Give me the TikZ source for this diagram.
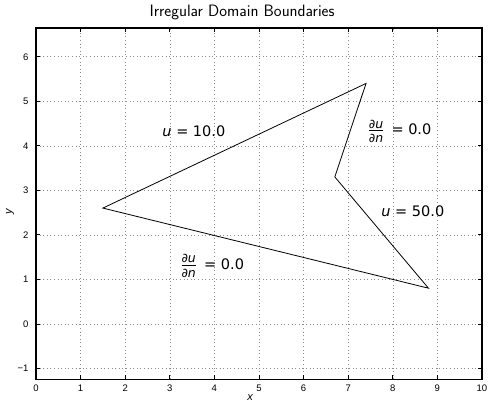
\documentclass[tikz,border=0pt]{standalone}
\usepackage{fontspec}
\usepackage{tikz}
\newfontfamily\labelfont{DejaVu Sans}
\newfontfamily\tickfont{Liberation Sans}
\colorlet{axiscol}{black}
\colorlet{gridcol}{black!45!white}
\colorlet{boundcol}{black}
\colorlet{ticklabelcol}{black}
\tikzset{
  ticklabel/.style={font=\tickfont\fontsize{9.5}{10}\selectfont, text=ticklabelcol},
  axislabel/.style={font=\tickfont\itshape\fontsize{11}{12}\selectfont},
  bclabel/.style={font=\labelfont\fontsize{14.5}{16}\selectfont},
  gridline/.style={gridcol, line width=0.5pt, dash pattern=on 0.8pt off 2.8pt},
}
\newcommand{\fracpart}[1]{\hbox{\labelfont\itshape\fontsize{12.5}{12.5}\selectfont #1}}
\newcommand{\dudn}{$\frac{\fracpart{∂u}\rule[-2pt]{0pt}{0pt}}%
  {\rule{0pt}{11pt}\fracpart{∂n}}$\hspace{2.5pt}}

\begin{document}
\begin{tikzpicture}[x=44.6pt, y=44.51pt]

  % Figure area.
  \useasboundingbox (-0.807,-1.779) rectangle (10.135,7.275);

  % Dotted grid.
  \foreach \x in {1,...,9} {
    \draw[gridline] (\x,-1.245) -- (\x,6.646);
  }
  \foreach \y in {-1,...,6} {
    \draw[gridline] (0,\y) -- (10,\y);
  }

  % Tick marks, inside the box on all four sides.
  \foreach \x in {0,...,10} {
    \draw[axiscol, line width=0.6pt] (\x,-1.245) -- ++(0,4pt);
    \draw[axiscol, line width=0.6pt] (\x,6.646) -- ++(0,-4pt);
    \node[ticklabel] at (\x,-1.45) {\x};
  }
  \foreach \y in {-1,...,6} {
    \draw[axiscol, line width=0.6pt] (0,\y) -- ++(4pt,0);
    \draw[axiscol, line width=0.6pt] (10,\y) -- ++(-4pt,0);
  }
  \foreach \y in {0,...,6} {
    \node[ticklabel, anchor=east] at (-0.09,\y) {\y};
  }
  \node[ticklabel, anchor=east] at (-0.09,-1) {−1};

  % Axes box.
  \draw[axiscol, line width=1.2pt] (0,-1.245) rectangle (10,6.646);

  % Title and axis labels.
  \node[font=\sffamily\fontsize{16.5}{18}\selectfont] (title) at (4.62,7.0)
    {Irregular Domain Boundaries};
  \node[axislabel] (xlab) at (4.80,-1.66) {x};
  \node[axislabel, rotate=90] (ylab) at (-0.58,2.51) {y};

  % Domain boundary.
  \coordinate (west)  at (1.5,2.6);
  \coordinate (north) at (7.4,5.4);
  \coordinate (notch) at (6.7,3.3);
  \coordinate (south) at (8.8,0.8);
  \draw[boundcol, line width=0.8pt] (west) -- (north) -- (notch) -- (south) -- cycle;

  % Boundary conditions.
  \node[bclabel] (bctop)   at (3.54,4.32) {\itshape u\upshape\ = 10.0};
  \node[bclabel] (bcright) at (8.45,2.52) {\itshape u\upshape\ = 50.0};
  \node[bclabel] (bcnotch) at (8.15,4.33) {\dudn\ = 0.0};
  \node[bclabel] (bcbot)   at (3.95,1.30) {\dudn\ = 0.0};

\end{tikzpicture}
\end{document}
